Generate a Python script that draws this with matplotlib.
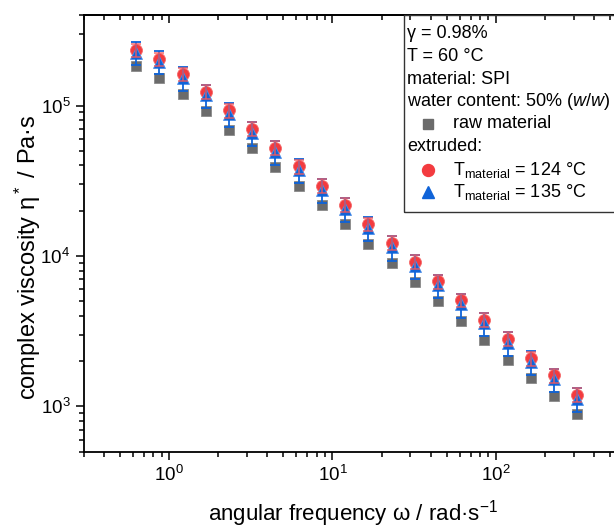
import matplotlib
matplotlib.use("Agg")
import matplotlib.pyplot as plt
from matplotlib.lines import Line2D
from matplotlib.patches import Rectangle
from matplotlib.ticker import LogLocator, NullFormatter

plt.rcParams['font.family'] = ['Liberation Sans', 'DejaVu Sans']
plt.rcParams['mathtext.fontset'] = 'custom'
plt.rcParams['mathtext.rm'] = 'Liberation Sans'
plt.rcParams['mathtext.it'] = 'Liberation Sans:italic'
plt.rcParams['mathtext.default'] = 'regular'

# angular frequency, rad/s
omega = [0.628, 0.871, 1.21, 1.68, 2.33, 3.23, 4.48, 6.21, 8.62, 11.96,
         16.6, 23.0, 31.9, 44.3, 61.4, 85.2, 118, 164, 228, 314]

# complex viscosity, Pa s
eta_raw = [1.83e5, 1.53e5, 1.20e5, 9.16e4, 6.89e4, 5.19e4, 3.88e4, 2.90e4, 2.18e4, 1.63e4,
           1.21e4, 9020, 6680, 4990, 3700, 2750, 2050, 1540, 1180, 890]
eta_124 = [2.34e5, 2.03e5, 1.62e5, 1.24e5, 9.30e4, 6.99e4, 5.25e4, 3.94e4, 2.94e4, 2.19e4,
           1.63e4, 1.22e4, 9120, 6780, 5090, 3780, 2810, 2090, 1610, 1200]
err_124 = [2.4e4, 2.1e4, 1.7e4, 1.3e4, 9.8e3, 7.3e3, 5.5e3, 4.1e3, 3.1e3, 2.3e3,
           1.7e3, 1.3e3, 960, 710, 540, 400, 300, 220, 170, 130]
eta_135 = [2.25e5, 1.96e5, 1.53e5, 1.17e5, 8.80e4, 6.58e4, 4.94e4, 3.71e4, 2.75e4, 2.05e4,
           1.53e4, 1.14e4, 8580, 6380, 4760, 3560, 2640, 1970, 1510, 1120]
err_135 = [4.0e4, 3.5e4, 2.8e4, 2.1e4, 1.6e4, 1.2e4, 8.9e3, 6.7e3, 5.0e3, 3.7e3,
           2.8e3, 2.1e3, 1540, 1150, 860, 640, 480, 350, 270, 200]

c_raw = '#6b6b6b'
c_124 = '#f33b3f'
c_135 = '#0f63d8'

W, H = 614, 526
fig = plt.figure(figsize=(W / 100, H / 100), dpi=100)
ax = fig.add_axes([83.6 / W, 1 - 451.7 / H, (623 - 83.6) / W, (451.7 - 15) / H])

ax.plot(omega, eta_raw, 's', ms=7.2, color=c_raw, mec='#8a8a8a', mew=0.6, zorder=3)
ax.plot(omega, eta_124, 'o', ms=8.6, color=c_124, mec='#f56a6a', mew=0.6, zorder=4)
ax.plot(omega, eta_135, '^', ms=9.2, color=c_135, mec='#4d8fe8', mew=0.6, zorder=5)
ax.errorbar(omega, eta_135, yerr=err_135, fmt='none', ecolor=c_135, elinewidth=1.3,
            capsize=3.5, capthick=1.3, zorder=6)
ax.errorbar(omega, eta_124, yerr=err_124, fmt='none', ecolor='#f25a5e', elinewidth=1.3,
            capsize=3.5, capthick=1.3, alpha=0.75, zorder=7)

ax.set_xscale('log')
ax.set_yscale('log')
ax.set_xlim(0.3, 600)
ax.set_ylim(500, 4e5)

major = LogLocator(base=10, numticks=10)
minor = LogLocator(base=10, subs=range(2, 10), numticks=20)
ax.xaxis.set_major_locator(major)
ax.xaxis.set_minor_locator(minor)
ax.xaxis.set_minor_formatter(NullFormatter())
ax.yaxis.set_minor_formatter(NullFormatter())

for s in ax.spines.values():
    s.set_linewidth(1.3)
ax.tick_params(which='both', labelsize=13.5, width=1.1, direction='out')
ax.tick_params(which='major', length=6)
ax.tick_params(which='minor', length=3.5)

# mirrored ticks on top, pointing inward
top = ax.secondary_xaxis('top')
top.set_xscale('log')
top.xaxis.set_major_locator(LogLocator(base=10, numticks=10))
top.xaxis.set_minor_locator(LogLocator(base=10, subs=range(2, 10), numticks=20))
top.tick_params(which='both', direction='in', width=1.1, labeltop=False)
top.tick_params(which='major', length=6)
top.tick_params(which='minor', length=3.5)
top.spines['top'].set_linewidth(1.3)

ax.set_xlabel('angular frequency ω / rad·s$^{-1}$', fontsize=16)
ax.set_ylabel('complex viscosity η$^*$ / Pa·s', fontsize=17)
ax.xaxis.label.set_va('center')
ax.xaxis.set_label_coords(0.5, -0.141)
ax.yaxis.label.set_va('center')
ax.yaxis.set_label_coords(-0.104, 0.446)

# legend box
def fx(x):
    return x / W

def fy(y):
    return 1 - y / H

fig.add_artist(Rectangle((fx(404), fy(212)), fx(700) - fx(404), fy(15) - fy(212),
                         transform=fig.transFigure, fill=False, lw=1.0,
                         edgecolor='#333333', zorder=10))
lines = [
    (407, 33, 'γ = 0.98%'),
    (407, 56.5, 'T = 60 °C'),
    (407, 79.5, 'material: SPI'),
    (407, 102, 'water content: 50% ($\\it{w/w}$)'),
    (453, 124, 'raw material'),
    (407, 146.5, 'extruded:'),
    (453, 169.5, 'T$_{material}$ = 124 °C'),
    (453, 192.5, 'T$_{material}$ = 135 °C'),
]
for x, y, s in lines:
    fig.text(fx(x), fy(y), s, fontsize=13, va='center', ha='left', zorder=11)
for y, m, c, ms in [(124, 's', c_raw, 7.2), (169.5, 'o', c_124, 8.6), (192.5, '^', c_135, 9.2)]:
    fig.add_artist(Line2D([fx(428)], [fy(y)], marker=m, color=c, ms=ms, lw=0,
                          transform=fig.transFigure, zorder=11))

fig.savefig('out.png', dpi=100)
